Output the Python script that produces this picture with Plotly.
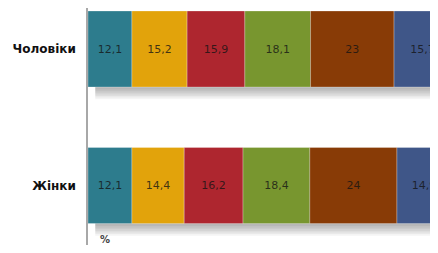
import plotly.graph_objects as go

categories = ["Жінки", "Чоловіки"]
men = [12.1, 15.2, 15.9, 18.1, 23, 15.7]
women = [12.1, 14.4, 16.2, 18.4, 24, 14.9]
colors = ["#2D7C8D", "#E2A30B", "#AE262F", "#78962F", "#883B06", "#3F5688"]
unit_label = "%"

def fmt(v):
    return f"{v:g}".replace(".", ",")

fig = go.Figure()

bar_w = 0.557
px = 1 / 136.5  # one pixel in category units
totals = [sum(women), sum(men)]

# soft drop shadow layers (fading downward)
for k in range(1, 8):
    fig.add_trace(go.Bar(
        y=categories, x=[t - 2 for t in totals], base=[2, 2], orientation="h",
        width=bar_w + 2 * px, offset=-(bar_w / 2) - px - k * 1.6 * px,
        marker=dict(color="rgba(0,0,0,0.045)", line=dict(width=0)),
        hoverinfo="skip", showlegend=False,
    ))

base_w, base_m = 0.0, 0.0
for i in range(len(men)):
    vals = [women[i], men[i]]
    fig.add_trace(go.Bar(
        y=categories, x=vals, base=[base_w, base_m], orientation="h",
        width=bar_w, offset=-bar_w / 2,
        marker=dict(color=colors[i], line=dict(width=0.6, color="rgba(255,255,255,0.45)")),
        text=[fmt(v) for v in vals], textposition="inside", insidetextanchor="middle",
        textangle=0, constraintext="none",
        textfont=dict(family="DejaVu Sans", size=11, color="rgba(20,20,20,0.8)"),
        showlegend=False,
    ))
    base_w += women[i]
    base_m += men[i]

fig.update_layout(
    width=422, height=237,
    margin=dict(l=80, r=0, t=0, b=0),
    plot_bgcolor="white", paper_bgcolor="white",
    barmode="overlay",
    xaxis=dict(range=[0, 94.2], visible=False, fixedrange=True),
    yaxis=dict(
        type="category", categoryorder="array", categoryarray=categories,
        range=[-0.4359, 1.3004],
        showline=True, linecolor="#A8A8A8", linewidth=1.5,
        showgrid=False, zeroline=False, ticks="",
        ticklabelstandoff=8,
        tickfont=dict(family="DejaVu Sans", size=12, color="#111"),
    ),
    annotations=[dict(
        text="<b>" + unit_label + "</b>", xref="paper", yref="paper", x=0.028, y=-0.01,
        yanchor="bottom", showarrow=False,
        font=dict(family="DejaVu Sans", size=10, color="#444"),
    )],
)
fig.update_yaxes(tickvals=categories, ticktext=["<b>" + c + "</b>" for c in categories])

fig.write_html("out.html")
